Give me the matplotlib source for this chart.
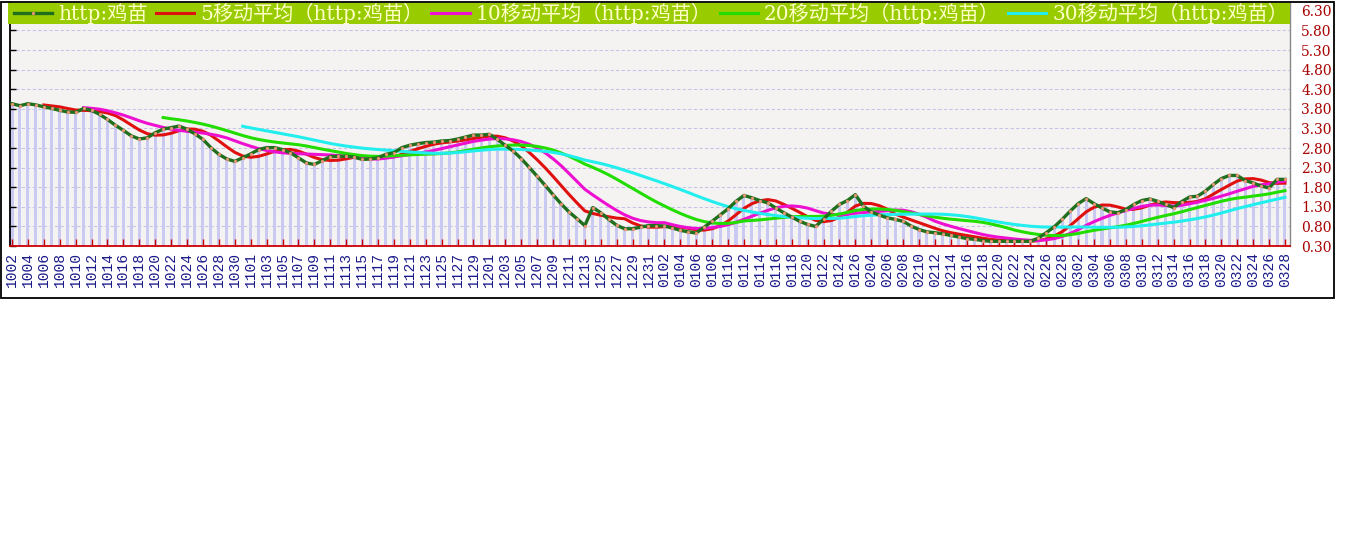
import matplotlib
matplotlib.use("Agg")
import matplotlib.pyplot as plt
import numpy as np
import pandas as pd
from matplotlib.patches import Rectangle

# ---- data ----
date_segments = [("10", 2, 31), ("11", 1, 30), ("12", 1, 13), ("12", 24, 31),
                 ("01", 1, 27), ("02", 4, 28), ("03", 1, 28)]
dates = [f"{m}{d:02d}" for m, a, b in date_segments for d in range(a, b + 1)]

price = [
    3.93, 3.88, 3.93, 3.90, 3.85, 3.81, 3.76, 3.72, 3.71, 3.81,
    3.76, 3.66, 3.53, 3.38, 3.25, 3.11, 3.03, 3.06, 3.19, 3.28,
    3.32, 3.36, 3.28, 3.16, 3.02, 2.81, 2.64, 2.52, 2.46, 2.55,
    2.65, 2.76, 2.81, 2.81, 2.76, 2.68, 2.55, 2.42, 2.38, 2.48,
    2.58, 2.59, 2.59, 2.57, 2.51, 2.52, 2.55, 2.64, 2.68, 2.81,
    2.87, 2.91, 2.94, 2.95, 2.98, 2.99, 3.03, 3.08, 3.13, 3.13,
    3.15, 3.02, 2.87, 2.72, 2.53, 2.31, 2.08, 1.85, 1.61, 1.38,
    1.17, 1.00, 0.82, 1.28, 1.15, 0.98, 0.83, 0.74, 0.74, 0.78,
    0.82, 0.82, 0.81, 0.76, 0.70, 0.66, 0.63, 0.78, 0.93, 1.09,
    1.25, 1.44, 1.59, 1.53, 1.46, 1.40, 1.27, 1.15, 1.04, 0.93,
    0.85, 0.80, 0.98, 1.19, 1.36, 1.46, 1.61, 1.32, 1.17, 1.09,
    1.02, 0.98, 0.93, 0.81, 0.72, 0.66, 0.64, 0.61, 0.57, 0.53,
    0.49, 0.47, 0.44, 0.42, 0.42, 0.42, 0.42, 0.42, 0.42, 0.50,
    0.64, 0.79, 0.98, 1.19, 1.38, 1.51, 1.38, 1.27, 1.17, 1.15,
    1.23, 1.36, 1.46, 1.50, 1.44, 1.36, 1.28, 1.43, 1.55, 1.57,
    1.70, 1.87, 2.02, 2.10, 2.10, 1.97, 1.91, 1.83, 1.78, 2.00,
    2.00,
]

ma_windows = [5, 10, 20, 30]
ma_colors = ["#e01010", "#ee10d0", "#22dd00", "#22eeee"]
series_name = "http:鸡苗"
ma_names = [f"{w}移动平均（http:鸡苗）" for w in ma_windows]
yticks = [0.30, 0.80, 1.30, 1.80, 2.30, 2.80, 3.30, 3.80, 4.30, 4.80, 5.30, 5.80, 6.30]

# ---- figure ----
W, H = 1345, 541
fig = plt.figure(figsize=(W / 100, H / 100), dpi=100, facecolor="white")

def fx(px):
    return px / W

def fy(py):
    return 1 - py / H

ax = fig.add_axes([fx(10), fy(246), fx(1280), (246 - 3) / H])
ax.set_facecolor("#f5f3f2")

x = np.arange(len(price))
s = pd.Series(price)

ax.bar(x, price, width=0.38, color="#c9c9f2", zorder=1)
for ytk in yticks:
    ax.axhline(ytk, color="#c4c4e6", lw=0.8, ls=(0, (3, 2)), zorder=0.5)

handles = []
for w, c, n in zip(ma_windows, ma_colors, ma_names):
    ma = s.rolling(w).mean()
    h, = ax.plot(x, ma, color=c, lw=2.2, zorder=3, label=n)
    handles.append(h)

hmain, = ax.plot(x, price, color="#1f6f1f", lw=2.4, zorder=4,
                 marker="o", ms=2.0, mfc="#f4a080", mec="#e88a6a", mew=0.4,
                 label=series_name)

ax.set_xlim(-0.25, len(price) - 1 + 0.63)
ax.set_ylim(0.30, 6.50)

ax.set_xticks(x[::2])
ax.set_xticklabels(dates[::2], rotation=90, family="Liberation Mono",
                   fontsize=10.5, color="#1a1a8a")
ax.tick_params(axis="x", direction="in", length=5, width=1, color="#cc0000", pad=4)

ax.yaxis.tick_right()
ax.set_yticks(yticks)
ax.set_yticklabels([f"{v:.2f}" for v in yticks], family="DejaVu Serif",
                   fontsize=10, color="#a80000")
ax.tick_params(axis="y", right=False, left=True, direction="in", length=4,
               width=1, color="black", pad=8, labelright=True, labelleft=False)

ax.spines["top"].set_visible(False)
ax.spines["bottom"].set_color("#cc0000")
ax.spines["bottom"].set_linewidth(1.3)
ax.spines["left"].set_color("black")
ax.spines["left"].set_linewidth(1.3)
ax.spines["right"].set_color("#888888")
ax.spines["right"].set_linewidth(1.0)

# legend band
fig.patches.append(Rectangle((fx(8), fy(24)), fx(1282), 21 / H,
                             transform=fig.transFigure, facecolor="#99cc00",
                             edgecolor="none", zorder=5))

leg = fig.legend([hmain] + handles, [series_name] + ma_names,
                 loc="center left", bbox_to_anchor=(fx(14), fy(13.5)),
                 ncol=5, frameon=False, borderpad=0, borderaxespad=0,
                 handlelength=1.9, handletextpad=0.3, columnspacing=0.4,
                 numpoints=1,
                 prop={"family": ["DejaVu Serif", "Noto Sans CJK SC"], "size": 14.5})
leg.set_zorder(6)
for t in leg.get_texts():
    t.set_color("#ffffc8")

# outer frame
fig.patches.append(Rectangle((fx(1), fy(298)), fx(1333), 296 / H,
                             transform=fig.transFigure, facecolor="none",
                             edgecolor="black", lw=1.3, zorder=7))

fig.savefig("out.png", dpi=100, facecolor="white")
